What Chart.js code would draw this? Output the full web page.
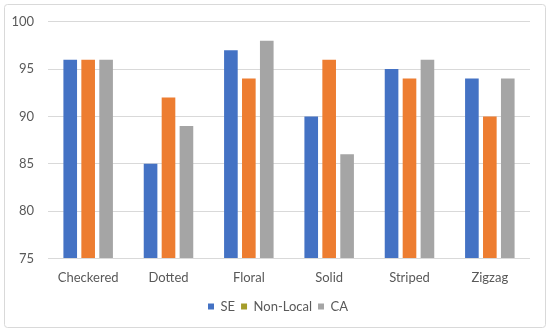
<!DOCTYPE html>
<html>
<head>
<meta charset="utf-8">
<script src="https://cdn.jsdelivr.net/npm/chart.js@4"></script>
<style>
  html, body { margin: 0; padding: 0; background: #fff; }
  #wrap { position: relative; width: 550px; height: 332px; }
</style>
</head>
<body>
<div id="wrap"><canvas id="patternChart" width="550" height="332"></canvas></div>
<script>
// Chart values
const categories = ['Checkered', 'Dotted', 'Floral', 'Solid', 'Striped', 'Zigzag'];
const seValues = [96, 85, 97, 90, 95, 94];
const nonLocalValues = [96, 92, 94, 96, 94, 90];
const caValues = [96, 89, 98, 86, 96, 94];
const yTicks = [75, 80, 85, 90, 95, 100];

const textColor = '#595959';
const gridColor = '#d9d9d9';
const fontFamily = 'Lato, "Open Sans", sans-serif';

// outer frame around the whole chart
const framePlugin = {
  id: 'frame',
  beforeDraw(chart) {
    const ctx = chart.ctx;
    ctx.save();
    ctx.fillStyle = '#fff';
    ctx.fillRect(0, 0, chart.width, chart.height);
    ctx.strokeStyle = '#d9d9d9';
    ctx.lineWidth = 1;
    ctx.beginPath();
    ctx.roundRect(4.5, 4.5, 541, 323, 3);
    ctx.stroke();
    ctx.restore();
  },
  afterLayout(chart) {
    // centre the legend on the whole canvas and nudge it down a little
    if (chart.legend) {
      chart.legend.left += 13;
      chart.legend.right += 13;
      chart.legend.top += 4;
      chart.legend.bottom += 4;
    }
  }
};

const ctx = document.getElementById('patternChart').getContext('2d');
new Chart(ctx, {
  type: 'bar',
  data: {
    labels: categories,
    datasets: [
      { label: 'SE', data: seValues, backgroundColor: '#4472c4' },
      { label: 'Non-Local', data: nonLocalValues, backgroundColor: '#ed7d31' },
      { label: 'CA', data: caValues, backgroundColor: '#a5a5a5' }
    ]
  },
  options: {
    responsive: false,
    animation: false,
    base: 75,
    categoryPercentage: 0.67,
    barPercentage: 0.76,
    layout: { padding: { left: 0, right: 20, top: 21, bottom: 13 } },
    plugins: {
      legend: {
        position: 'bottom',
        labels: {
          boxWidth: 6,
          boxHeight: 6,
          padding: 6,
          color: textColor,
          font: { family: fontFamily, size: 13 },
          generateLabels(chart) {
            const items = Chart.defaults.plugins.legend.labels.generateLabels(chart);
            // the reference legend shows an olive swatch for Non-Local
            items[1].fillStyle = '#a59d2a';
            items.forEach(it => { it.strokeStyle = it.fillStyle; it.lineWidth = 0; });
            return items;
          }
        }
      },
      tooltip: { enabled: false }
    },
    scales: {
      x: {
        grid: { display: false },
        border: { display: false },
        ticks: { color: textColor, font: { family: fontFamily, size: 13 }, padding: 4 }
      },
      y: {
        min: 75,
        max: 100,
        afterFit(scale) { scale.width = 48; },
        afterBuildTicks(scale) { scale.ticks = yTicks.map(v => ({ value: v })); },
        grid: { color: gridColor, drawTicks: false },
        border: { display: false },
        ticks: { color: textColor, font: { family: fontFamily, size: 13 }, padding: 14 }
      }
    }
  },
  plugins: [framePlugin]
});
</script>
</body>
</html>
